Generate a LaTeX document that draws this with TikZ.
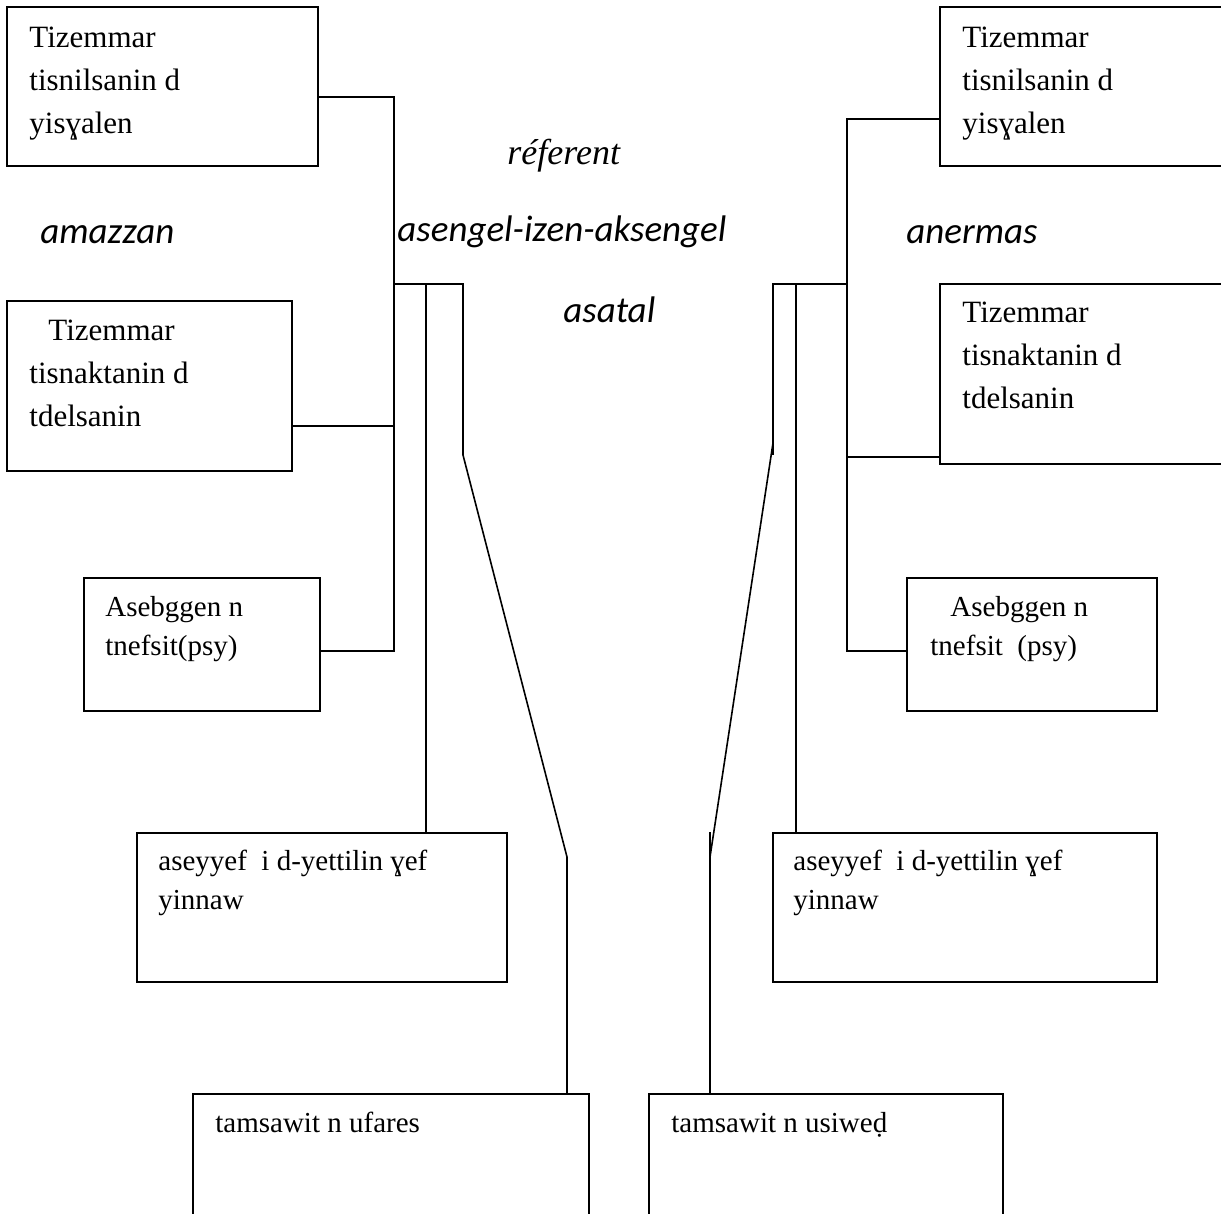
\documentclass[tikz,border=0pt]{standalone}
\usepackage{fontspec}
\setmainfont{Liberation Serif}
\newfontfamily\labelfont{Carlito}
\usepackage{tikz}
\usetikzlibrary{positioning, fit}

\newcommand{\bigboxfont}{\fontsize{15.5}{21.5}\selectfont}
\newcommand{\smallboxfont}{\fontsize{14.5}{19.5}\selectfont}

\begin{document}
\begin{tikzpicture}[x=0.5pt, y=-0.5pt,
    box/.style={draw, line width=0.9pt, inner sep=0pt},
    txt/.style={anchor=north west, inner sep=0pt, align=left},
    lbl/.style={anchor=base west, inner sep=0pt, font=\labelfont\itshape\fontsize{18.5}{22}\selectfont},
    wire/.style={line width=0.8pt}]
    \useasboundingbox (0,0) rectangle (1221,1214);
    \clip (0,0) rectangle (1221,1214);

    % Left boxes
    \node[box, fit={(7,7) (318,166)}] (l1) {};
    \node[box, fit={(7,301) (292,471)}] (l2) {};
    \node[box, fit={(84,578) (320,711)}] (l3) {};
    \node[box, fit={(137,833) (507,982)}] (l4) {};
    \node[box, fit={(193,1094) (589,1260)}] (l5) {};

    % Right boxes (cut by the page edge)
    \node[box, fit={(940,7) (1260,166)}] (r1) {};
    \node[box, fit={(940,284) (1260,464)}] (r2) {};
    \node[box, fit={(907,578) (1157,711)}] (r3) {};
    \node[box, fit={(773,833) (1157,982)}] (r4) {};
    \node[box, fit={(649,1094) (1003,1260)}] (r5) {};

    % Box texts
    \node[txt, font=\bigboxfont] (l1t) at (29,27) {Tizemmar\\tisnilsanin d\\yisɣalen};
    \node[txt, font=\bigboxfont] (l2t) at (29,320) {\hspace*{9.5pt}Tizemmar\\tisnaktanin d\\tdelsanin};
    \node[txt, font=\smallboxfont] (l3t) at (105,596) {Asebggen n\\tnefsit(psy)};
    \node[txt, font=\smallboxfont] (l4t) at (158,850) {aseyyef\ \ i d-yettilin ɣef\\yinnaw};
    \node[txt, font=\smallboxfont] (l5t) at (215,1112) {tamsawit n ufares};
    \node[txt, font=\bigboxfont] (r1t) at (962,27) {Tizemmar\\tisnilsanin d\\yisɣalen};
    \node[txt, font=\bigboxfont] (r2t) at (962,302) {Tizemmar\\tisnaktanin d\\tdelsanin};
    \node[txt, font=\smallboxfont] (r3t) at (930,596) {\hspace*{10pt}Asebggen n\\tnefsit\ \ (psy)};
    \node[txt, font=\smallboxfont] (r4t) at (793,850) {aseyyef\ \ i d-yettilin ɣef\\yinnaw};
    \node[txt, font=\smallboxfont] (r5t) at (671,1112) {tamsawit n usiweḍ};

    % Free labels
    \node[anchor=base west, inner sep=0pt, font=\itshape\fontsize{18}{22}\selectfont] (ref) at (507,165) {réferent};
    \node[lbl] (amz) at (40,244) {amazzan};
    \node[lbl] (asg) at (397,242) {asengel-izen-aksengel};
    \node[lbl] (ast) at (563,322) {asatal};
    \node[lbl] (anr) at (906,244) {anermas};

    % Left spine
    \coordinate (ltop) at (394,97);
    \coordinate (lmid) at (394,426);
    \coordinate (lbot) at (394,651);
    \coordinate (lfork) at (394,284);
    \coordinate (lstem) at (426,284);
    \coordinate (lside) at (463,284);
    \coordinate (lbend) at (463,455);
    \coordinate (lfoot) at (567,857);
    \draw[wire] (l1.east |- ltop) -- (ltop) -- (lbot) -- (l3.east |- lbot);
    \draw[wire] (l2.east |- lmid) -- (lmid);
    \draw[wire] (lfork) -- (lside) -- (lbend) -- (lfoot) -- (lfoot |- l5.north);
    \draw[wire] (lstem) -- (lstem |- l4.north);

    % Right spine
    \coordinate (rtop) at (847,119);
    \coordinate (rmid) at (847,457);
    \coordinate (rbot) at (847,651);
    \coordinate (rfork) at (847,284);
    \coordinate (rstem) at (796,284);
    \coordinate (rside) at (773,284);
    \coordinate (rbend) at (773,443);
    \coordinate (rfoot) at (710,857);
    \draw[wire] (r1.west |- rtop) -- (rtop) -- (rbot) -- (r3.west |- rbot);
    \draw[wire] (rmid) -- (r2.west |- rmid);
    \draw[wire] (rfork) -- (rside) -- (773,455);
    \draw[wire] (rbend) -- (rfoot);
    \draw[wire] (710,832) -- (710,832 |- r5.north);
    \draw[wire] (rstem) -- (rstem |- r4.north);
\end{tikzpicture}
\end{document}
